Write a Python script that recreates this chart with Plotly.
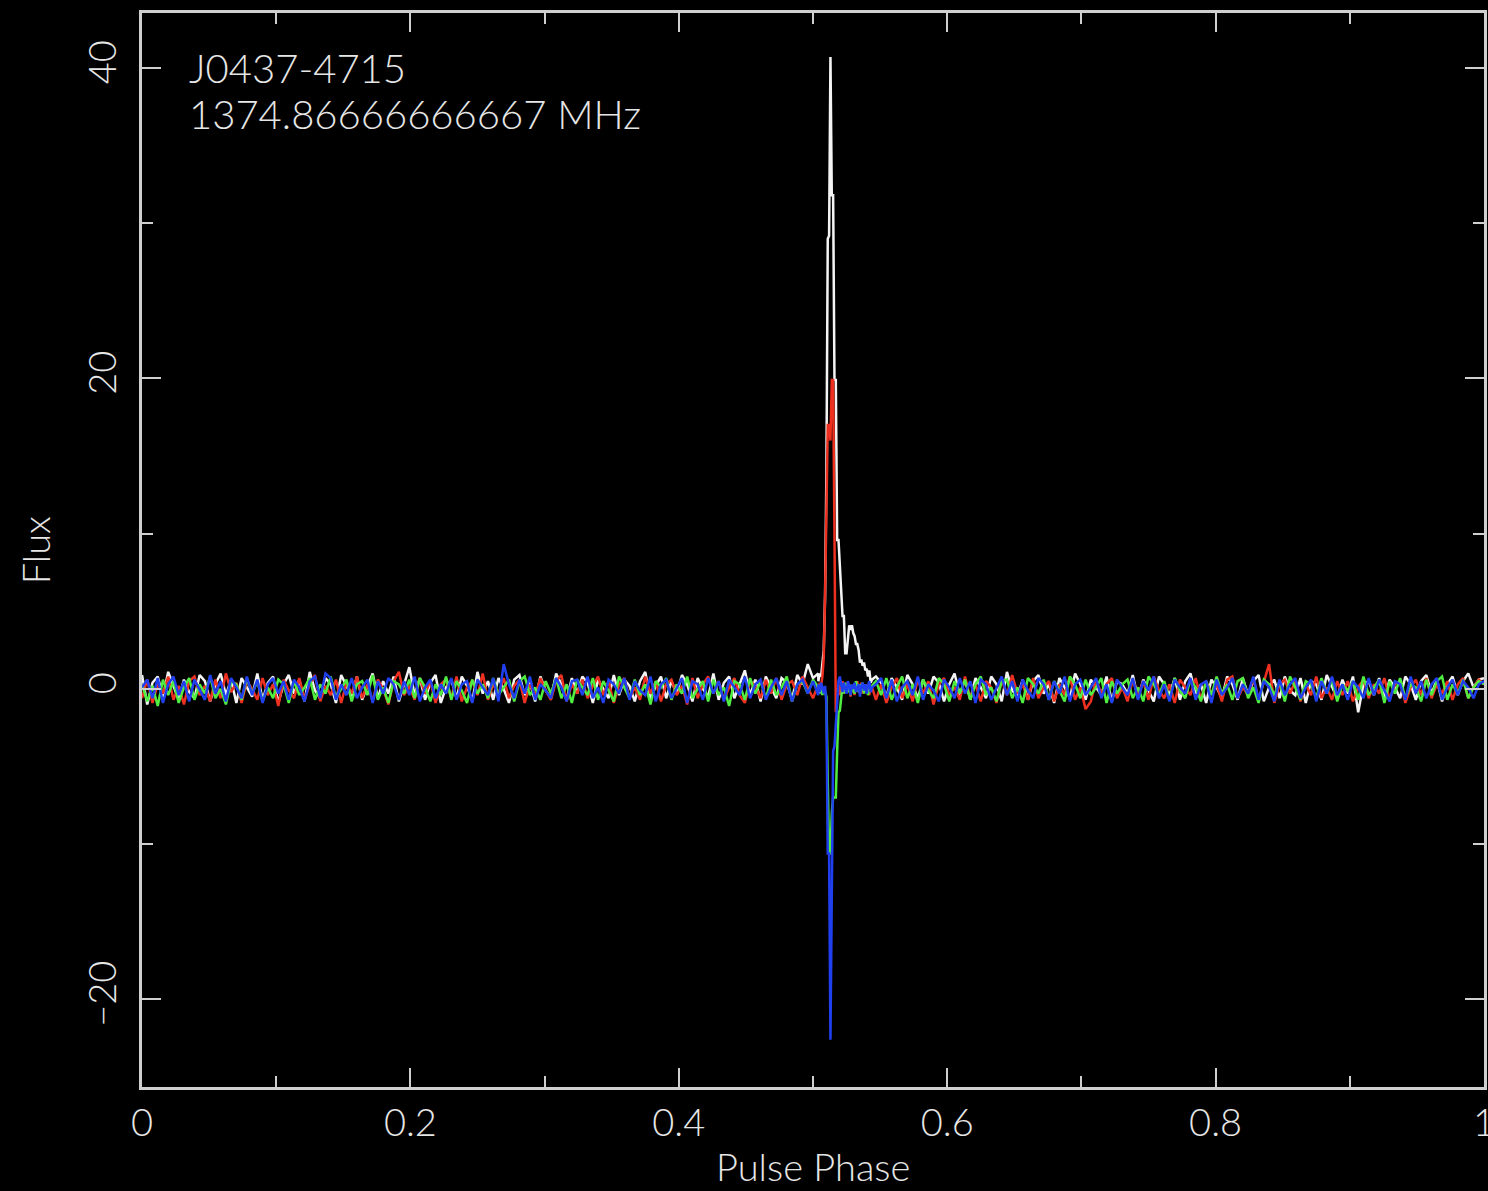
import numpy as np
import plotly.graph_objects as go

# ---- data: pulse profile (Stokes I white, Q red, U green, V blue) ----
N_BASE = 256          # coarse phase bins for off-pulse baseline
LEFT_BINS = list(range(0, 130))      # bins 0..129
RIGHT_BINS = list(range(140, 257))   # bins 140..256
pulse_phase_start = 0.504
pulse_phase_step = 0.001
N_PULSE = 41

left_white = [
0.9,-1.0,0.4,0.8,-0.5,1.1,0.2,-0.7,0.6,-0.2,
-0.6,0.9,0.5,-0.8,0.3,1.0,-0.4,0.6,-0.9,0.7,
0.1,-0.5,1.0,-0.7,0.4,0.8,-0.9,0.3,0.9,-0.3,
0.6,-0.8,1.1,-0.1,-0.6,0.7,0.3,-0.9,0.9,0.2,
-0.5,0.8,-0.7,0.2,1.0,-0.6,0.5,-0.3,0.8,-0.8,
0.3,1.4,-0.4,0.7,-0.7,0.4,0.9,-0.9,0.1,0.6,
-0.6,0.8,0.2,-0.8,1.1,-0.3,0.5,-0.7,0.7,0.0,
-0.9,0.6,0.9,-0.4,0.4,-0.8,0.8,-0.1,-0.6,1.0,
0.3,-0.7,0.7,-0.3,0.8,0.4,-0.9,0.6,0.0,-0.6,
0.9,-0.4,0.6,0.2,-0.8,0.5,1.1,-0.7,0.2,0.8,
-0.6,0.5,-0.3,0.9,0.3,-0.8,0.7,0.0,-0.5,1.0,
-0.7,0.4,0.8,-0.6,0.3,1.2,-0.4,0.6,-0.8,0.8,
0.1,-0.6,0.7,0.4,-0.7,0.9,0.3,1.6,0.7,1.0]
left_red = [
-0.6,0.6,-0.9,0.3,-0.3,0.8,-0.7,0.2,-1.0,0.5,
0.8,-0.4,0.2,-0.8,0.6,-0.6,1.0,-0.2,0.4,-0.9,
0.5,0.0,-0.7,0.7,-0.4,0.3,-1.1,0.6,-0.1,-0.6,
0.7,-0.7,0.3,0.9,-0.8,0.2,-0.4,0.6,-0.9,0.4,
-0.3,0.8,-0.6,0.3,-0.8,0.6,0.0,-1.0,0.5,1.1,
-0.4,0.2,-0.7,0.7,-0.3,0.5,-0.9,0.3,0.6,-0.6,
0.8,-0.8,0.1,0.5,-0.4,1.0,-0.7,0.3,-0.3,0.7,
-0.6,0.2,0.6,-0.9,0.3,-0.4,0.7,-0.1,-0.7,0.5,
0.9,-0.8,0.3,-0.3,0.6,-0.6,0.2,0.8,-0.4,0.5,
-0.9,0.3,0.7,-0.6,0.1,-0.7,0.8,-0.3,0.5,-0.8,
0.3,0.6,-0.4,0.2,-1.0,0.7,-0.6,0.3,0.8,-0.3,
0.5,-0.7,0.1,0.7,-0.4,-0.9,0.5,0.2,-0.6,0.6,
-0.3,0.7,-0.7,0.3,0.5,-0.4,0.8,0.1,-0.6,0.3]
left_green = [
0.3,-0.8,0.2,-1.1,0.6,-0.4,0.5,-0.9,0.1,0.7,
-0.7,0.3,-0.3,0.8,-0.6,0.0,-1.0,0.5,0.3,-0.7,
0.7,-0.3,0.5,-0.8,0.1,-0.6,0.6,0.3,-0.9,0.5,
-0.4,0.1,0.7,-0.7,0.3,-0.3,0.8,-0.6,0.0,0.6,
-0.8,0.3,0.5,-0.4,0.9,-0.7,0.1,-0.9,0.5,0.3,
-0.3,0.6,-0.6,0.7,0.1,-0.8,0.3,-0.4,0.8,-0.7,
0.5,-0.1,-0.9,0.6,-0.3,0.3,-0.6,0.7,-0.4,0.1,
0.6,-0.8,0.5,0.8,-0.4,0.1,-0.7,0.5,-0.3,0.7,
-0.6,0.3,-0.9,0.6,0.1,-0.4,0.7,-0.7,0.5,-0.1,
-0.8,0.8,0.1,-0.6,0.6,-0.4,0.3,-1.0,0.5,0.1,
0.7,-0.7,0.3,-0.3,0.8,-0.6,0.0,0.5,-0.8,0.6,
-0.4,0.1,-1.1,0.5,0.3,-0.7,0.7,-0.3,0.5,-0.6,
0.6,-0.4,0.1,0.8,-0.8,0.3,0.5,-0.3,0.6,0.1]
left_blue = [
0.1,0.6,-0.6,0.7,-0.9,0.3,0.8,-0.4,0.5,-0.8,
0.6,-0.1,-0.7,0.9,-0.3,0.5,-0.8,0.7,0.1,-0.6,
0.8,-0.4,0.6,-0.9,0.3,0.7,-0.3,0.5,-0.7,0.6,
0.1,-0.8,0.5,0.8,-0.6,1.0,0.7,-0.7,0.3,-0.4,
0.7,-0.6,0.1,0.6,-0.9,0.5,-0.3,0.7,0.3,-0.7,
0.5,-0.4,0.8,-0.8,0.1,0.6,-0.6,0.3,-0.3,0.7,
-0.7,0.3,0.5,-0.9,0.6,0.1,-0.4,0.7,-0.8,1.6,
0.3,-0.6,0.6,-0.3,0.8,-0.7,0.3,-0.1,-0.6,0.7,
0.1,-0.8,0.5,0.6,-0.4,0.8,-0.6,0.1,-0.9,0.6,
0.3,-0.3,0.7,-0.7,0.5,-0.1,-0.4,0.8,-0.8,0.3,
0.6,-0.6,0.1,0.7,-0.9,0.5,0.3,-0.7,0.7,-0.3,
0.5,-0.8,0.6,0.1,-0.4,0.8,-0.6,0.3,0.6,-0.7,
0.1,0.7,-0.4,0.5,-0.8,0.3,0.6,-0.3,0.5,-0.4]

pulse_white = [
0.5,1.0,0.8,1.5,2.5,6.0,14.0,29.0,29.2,40.7,
31.8,31.8,19.9,19.9,9.6,9.6,7.6,6.0,4.7,4.7,
2.3,2.3,3.2,4.1,3.8,4.1,3.6,3.4,2.9,2.9,
2.5,1.7,1.9,1.5,1.7,1.2,1.3,0.8,1.2,0.4,
0.6]
pulse_red = [
-0.3,0.4,0.2,0.8,2.0,6.0,12.0,17.0,17.0,16.0,
19.9,19.9,10.0,-1.5,-0.5,0.3,-0.4,0.2,0.5,-0.3,
0.1,0.4,-0.2,0.3,-0.5,0.2,0.1,-0.4,0.3,0.5,
-0.2,0.1,0.4,-0.3,0.2,-0.1,0.3,0.0,-0.4,0.2,
0.1]
pulse_green = [
0.1,-0.3,0.2,-0.4,0.1,-0.2,-0.5,-6.0,-10.6,-10.6,
-8.0,-7.0,-7.0,-7.0,-4.0,-1.5,-1.4,-0.5,0.2,-0.3,
0.4,0.1,-0.2,0.3,-0.4,0.2,0.0,-0.3,0.5,0.1,
-0.2,0.3,-0.1,0.4,-0.3,0.2,0.1,-0.4,0.3,-0.1,
0.2]
pulse_blue = [
0.3,-0.2,0.4,0.1,-0.3,0.2,-1.0,-10.6,-10.6,-22.6,
-12.0,-4.0,-3.7,-2.5,-1.0,0.5,0.8,0.3,-0.2,0.4,
0.1,-0.3,0.5,0.2,-0.4,0.3,0.0,0.4,-0.2,0.1,
0.3,-0.5,0.2,0.4,-0.1,0.3,-0.3,0.2,0.5,-0.2,
0.1]

right_white = [
0.8,0.4,-0.5,0.7,0.1,-0.7,0.9,0.3,-0.6,0.6,
-0.3,0.8,0.4,-0.8,0.3,1.0,-0.4,0.6,-0.7,0.7,
0.1,-0.6,0.8,0.3,-0.8,1.1,-0.1,-0.5,0.6,-0.7,
0.5,0.9,-0.3,0.3,-0.9,0.7,0.1,-0.6,1.0,0.3,
-0.7,0.6,0.1,-0.4,0.8,-0.8,0.5,0.3,-0.3,0.9,
-0.6,0.6,-0.1,-0.8,0.8,0.3,-0.4,0.7,-0.7,0.5,
1.0,-0.3,0.3,-0.9,0.6,0.1,-0.6,0.8,0.3,-0.7,
0.7,-0.4,0.5,0.9,-0.8,0.1,0.6,-0.6,0.8,-0.1,
-0.4,0.7,-0.9,0.5,0.3,-0.7,0.9,0.1,-0.6,0.6,
-0.3,0.8,-1.5,0.3,0.5,-0.4,0.7,-0.6,0.6,0.1,
-0.6,0.8,0.3,-0.7,0.5,0.9,-0.3,0.6,-0.8,0.3,
0.8,-0.4,0.5,1.0,0.1,0.6,0.7]
right_red = [
-0.7,0.3,-0.9,0.1,0.7,-0.6,0.3,-0.8,0.6,-0.3,
0.5,-1.0,0.3,0.7,-0.4,0.1,-0.7,0.8,-0.6,0.3,
-0.8,0.5,0.1,-0.9,0.6,-0.4,0.9,-0.3,0.3,-0.7,
0.7,-0.6,0.1,0.5,-0.8,0.3,-0.4,0.8,-0.7,0.1,
-1.3,-0.8,0.6,-0.3,0.3,0.7,-0.6,0.1,-0.8,0.6,
-0.4,0.5,-0.7,0.8,-0.1,-0.6,0.3,-0.9,0.6,0.1,
-0.4,0.7,-0.7,0.5,-0.3,0.3,-0.8,0.6,0.8,-0.6,
0.1,-0.4,0.7,-0.7,0.5,1.6,-0.9,0.3,0.6,-0.3,
0.5,-0.8,0.3,-0.4,0.8,-0.6,0.1,-0.7,0.5,-0.4,
0.5,-0.8,0.1,0.6,-0.6,0.3,-0.3,0.7,-0.7,0.3,
0.5,-0.9,0.1,0.6,-0.4,0.7,-0.6,0.3,-0.3,0.5,
-0.7,0.3,0.7,-0.6,0.1,0.6,0.3]
right_green = [
0.5,-0.4,0.7,-0.7,0.1,0.8,-0.6,0.3,-0.9,0.6,
-0.1,-0.6,0.7,0.3,-0.8,0.5,-0.3,0.6,-0.7,0.3,
0.8,-0.4,0.1,-0.8,0.5,0.6,-0.6,0.1,-0.9,0.7,
0.3,-0.3,0.6,-0.7,0.5,-0.1,-0.8,0.8,0.3,-0.6,
0.6,-0.4,0.1,0.7,-0.9,0.5,-0.3,0.3,0.6,-0.6,
0.1,-0.8,0.8,0.3,-0.4,0.5,-0.7,0.7,-0.1,-0.6,
0.6,0.1,-0.8,0.5,-0.4,0.8,-0.3,0.3,-0.7,0.5,
0.7,-0.6,0.1,-0.9,0.6,0.3,-0.4,0.5,-0.8,0.8,
0.1,-0.7,0.5,0.3,-0.6,0.7,-0.3,0.6,-0.8,0.3,
-0.1,0.5,-0.7,0.8,-0.4,0.1,0.6,-0.9,0.5,-0.3,
0.7,-0.6,0.3,0.1,-0.8,0.6,-0.4,0.5,0.8,-0.7,
0.3,-0.3,0.6,-0.6,0.1,0.5,0.3]
right_blue = [
0.3,0.7,-0.6,0.6,-0.8,0.1,0.5,-0.4,0.8,-0.7,
0.3,-0.1,-0.8,0.6,0.1,-0.6,0.7,-0.3,0.5,-0.9,
0.6,0.3,-0.7,0.1,0.8,-0.4,0.5,-0.8,0.6,-0.1,
-0.6,0.7,0.3,-0.7,0.5,-0.3,0.8,-0.8,0.3,0.6,
-0.4,0.1,0.7,-0.6,0.3,-0.9,0.6,0.1,-0.4,0.7,
-0.7,0.5,-0.1,0.8,-0.6,0.3,-0.8,0.6,0.1,-0.3,
0.7,-0.7,0.3,0.5,-0.9,0.6,-0.4,0.1,0.7,-0.6,
0.3,-0.3,0.8,-0.7,0.5,0.1,-0.8,0.6,-0.4,0.3,
0.7,-0.6,0.1,0.6,-0.8,0.5,-0.3,0.8,-0.4,0.3,
-0.7,0.5,0.1,-0.6,0.7,-0.4,0.6,-0.1,-0.8,0.5,
0.3,-0.7,0.8,-0.3,0.5,-0.6,0.3,0.7,-0.7,0.1,
0.6,-0.4,0.5,0.1,-0.6,0.3,0.5]

source_name = "J0437-4715"
freq_label = "1374.86666666667 MHz"
x_title = "Pulse Phase"
y_title = "Flux"

# ---- assemble phase grid ----
left_phase = [k / N_BASE for k in LEFT_BINS]
right_phase = [k / N_BASE for k in RIGHT_BINS]
pulse_phase = [pulse_phase_start + i * pulse_phase_step for i in range(N_PULSE)]
phase = left_phase + pulse_phase + right_phase

series = [
    ("I", left_white + pulse_white + right_white, "#f4f4f4"),
    ("Q", left_red + pulse_red + right_red, "#ee3020"),
    ("U", left_green + pulse_green + right_green, "#50ee40"),
    ("V", left_blue + pulse_blue + right_blue, "#2040f0"),
]
for name, vals, col in series:
    assert len(vals) == len(phase), (name, len(vals), len(phase))

fig = go.Figure()
for name, vals, col in series:
    fig.add_trace(go.Scatter(x=phase, y=vals, mode="lines", name=name,
                             line=dict(color=col, width=2.5),
                             showlegend=False, hoverinfo="skip"))

FONT = "Lato"
TXT = "#e6e6e6"
AX = "#cfcfcf"

axis_common = dict(
    showgrid=False, zeroline=False, showline=True, linecolor=AX, linewidth=3,
    mirror="allticks", ticks="inside", tickcolor=AX, tickwidth=2, ticklen=19,
    tickfont=dict(family=FONT, size=38, color=TXT, weight=300),
    ticklabeloverflow="allow",
)

fig.update_xaxes(range=[0, 1], tickvals=[0, 0.2, 0.4, 0.6, 0.8, 1.0],
                 ticktext=["0", "0.2", "0.4", "0.6", "0.8", "1"],
                 minor=dict(tickvals=[0.1, 0.3, 0.5, 0.7, 0.9], ticks="inside",
                            ticklen=11, tickcolor=AX, tickwidth=2),
                 ticklabelstandoff=0, **axis_common)
fig.update_yaxes(range=[-25.64, 43.54], tickvals=[-20, 0, 20, 40],
                 minor=dict(tickvals=[-10, 10, 30], ticks="inside",
                            ticklen=11, tickcolor=AX, tickwidth=2),
                 tickangle=-90, ticklabelstandoff=8, **axis_common)

fig.add_annotation(x=0.0335, y=0.9488, xref="paper", yref="paper", text=source_name,
                   showarrow=False, xanchor="left", yanchor="middle",
                   font=dict(family=FONT, size=40, color=TXT, weight=300))
fig.add_annotation(x=0.0335, y=0.9060, xref="paper", yref="paper", text=freq_label,
                   showarrow=False, xanchor="left", yanchor="middle",
                   font=dict(family=FONT, size=40, color=TXT, weight=300))
fig.add_annotation(x=0.5, y=-0.0735, xref="paper", yref="paper", text=x_title,
                   showarrow=False, xanchor="center", yanchor="middle",
                   font=dict(family=FONT, size=38, color=TXT, weight=300))
fig.add_annotation(x=-0.0795, y=0.5, xref="paper", yref="paper", text=y_title,
                   showarrow=False, xanchor="center", yanchor="middle", textangle=-90,
                   font=dict(family=FONT, size=38, color=TXT, weight=300))

fig.update_layout(
    width=1488, height=1191,
    margin=dict(l=142, r=4, t=13, b=104, autoexpand=False),
    paper_bgcolor="black", plot_bgcolor="black",
)

fig.write_html("out.html", config={"displayModeBar": False},
               post_script="document.body.style.margin='0';"
                           "document.body.style.background='black';")
